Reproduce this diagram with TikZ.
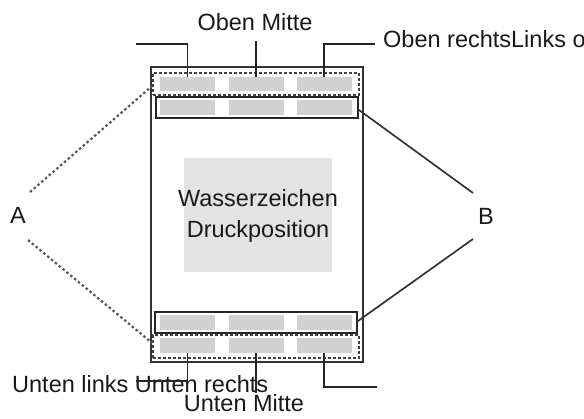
\documentclass[tikz,border=0pt]{standalone}
\usepackage{fontspec}
\setmainfont{Liberation Sans}
\begin{document}
\begin{tikzpicture}[x=1pt,y=-1pt,
  lbl/.style={font=\fontsize{23.5}{31}\selectfont, inner sep=0pt, anchor=base, text=black!90},
  graybox/.style={fill=black!18, draw=none, minimum width=55pt, inner sep=0pt},
  dashrect/.style={draw=black!75, dash pattern=on 3pt off 2pt, line width=1.7pt, inner sep=0pt},
  solidrect/.style={draw=black!85, line width=2pt, inner sep=0pt},
  leader/.style={draw=black!85, line width=1.9pt},
  bline/.style={draw=black!80, line width=1.7pt},
  aline/.style={draw=black!65, dash pattern=on 2.5pt off 2.5pt, line width=2.2pt}]
\useasboundingbox (0,0) rectangle (584,418);
% page
\node[draw=black!80, line width=2.2pt, minimum width=212pt, minimum height=295pt, inner sep=0pt] (page) at (257,214.5) {};
% watermark
\node[fill=black!11, minimum width=148pt, minimum height=114pt, inner sep=0pt] (wm) at (258,215) {};
\node[lbl] (wm1) at (258,206) {Wasserzeichen};
\node[lbl] (wm2) at (258,237) {Druckposition};
% rows of frames
\node[dashrect, minimum width=206pt, minimum height=22pt] (td) at (256,84) {};
\node[solidrect, minimum width=202pt, minimum height=21pt] (ts) at (257,107.5) {};
\node[solidrect, minimum width=202pt, minimum height=21pt] (bs) at (256,322.5) {};
\node[dashrect, minimum width=206pt, minimum height=23pt] (bd) at (256,346.5) {};
% gray boxes
\foreach \r/\y/\h in {1/84/14, 2/107.5/15, 3/322.5/15, 4/345.5/15}{
  \node[graybox, minimum height=\h pt] (g\r1) at (187.5,\y) {};
  \node[graybox, minimum height=\h pt] (g\r2) at (256,\y) {};
  \node[graybox, minimum height=\h pt] (g\r3) at (324,\y) {};
}
% top labels
\node[lbl] (om) at (255,30) {Oben Mitte};
\node[lbl, anchor=base west] (or) at (383,47) {Oben rechtsLinks o};
\coordinate (tlend) at (136,44);
\coordinate (trend) at (375,44);
\draw[leader] (tlend) -| (g11.north);
\draw[leader] (g12.north |- 0,41) -- (g12.north);
\draw[leader] (trend) -| (g13.north);
% bottom labels
\node[lbl, anchor=base west] (ul) at (12,392) {Unten links Unten rechts};
\node[lbl] (um) at (244,411) {Unten Mitte};
\coordinate (blend) at (136,381);
\coordinate (brend) at (377,387);
\draw[leader] (g41.south) |- (blend);
\draw[leader] (g42.south) -- (g42.south |- 0,393);
\draw[leader] (g43.south) |- (brend);
% A
\node[lbl] (A) at (18,223) {A};
\coordinate (a1) at (30,192);
\coordinate (a2) at (28,240);
\draw[aline] (a1) -- (td.west |- 0,86);
\draw[aline] (a2) -- (bd.west |- 0,343);
% B
\node[lbl] (B) at (486,224) {B};
\coordinate (b1) at (473,193);
\coordinate (b2) at (473,239);
\draw[bline] (ts.east |- 0,110) -- (b1);
\draw[bline] (bs.east |- 0,321) -- (b2);
\end{tikzpicture}
\end{document}
